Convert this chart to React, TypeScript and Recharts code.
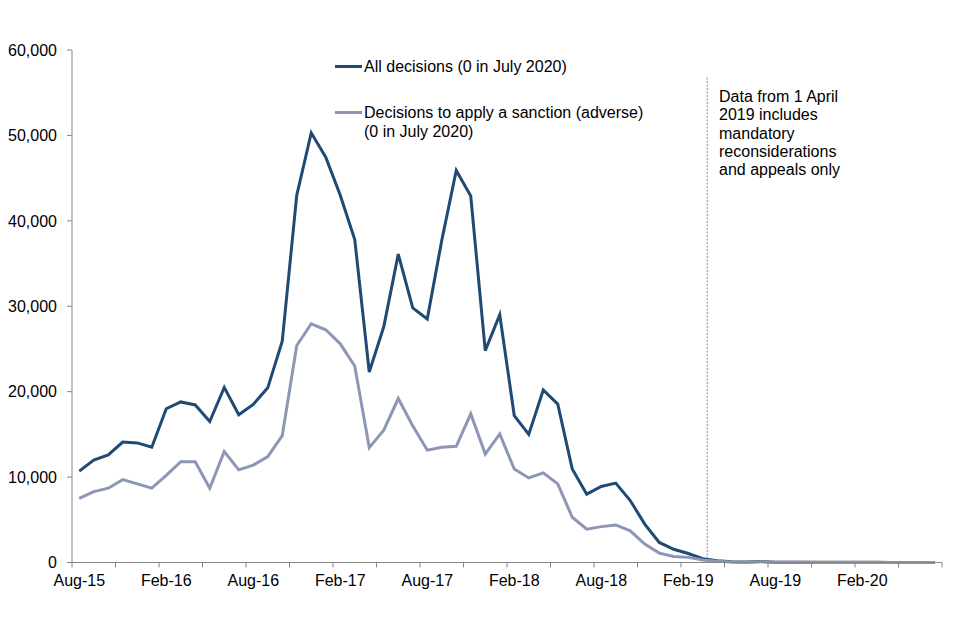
import React from "react";
import { LineChart, Line, XAxis, YAxis, ReferenceLine } from "recharts";

const months = [
  "Aug-15","Sep-15","Oct-15","Nov-15","Dec-15","Jan-16","Feb-16","Mar-16","Apr-16","May-16","Jun-16","Jul-16",
  "Aug-16","Sep-16","Oct-16","Nov-16","Dec-16","Jan-17","Feb-17","Mar-17","Apr-17","May-17","Jun-17","Jul-17",
  "Aug-17","Sep-17","Oct-17","Nov-17","Dec-17","Jan-18","Feb-18","Mar-18","Apr-18","May-18","Jun-18","Jul-18",
  "Aug-18","Sep-18","Oct-18","Nov-18","Dec-18","Jan-19","Feb-19","Mar-19","Apr-19","May-19","Jun-19","Jul-19",
  "Aug-19","Sep-19","Oct-19","Nov-19","Dec-19","Jan-20","Feb-20","Mar-20","Apr-20","May-20","Jun-20","Jul-20",
];

const allDecisions = [
  10700, 12000, 12600, 14100, 14000, 13500, 18000, 18800, 18450, 16500, 20500, 17300,
  18500, 20450, 25900, 43000, 50300, 47450, 43000, 37800, 22300, 27600, 36100, 29800,
  28500, 37700, 45900, 42900, 24800, 29000, 17200, 15000, 20200, 18550, 10950, 8000,
  8900, 9300, 7250, 4500, 2350, 1550, 1050, 450, 200, 100, 50, 130,
  40, 30, 30, 25, 20, 20, 20, 15, 10, 10, 10, 0,
];

const adverseDecisions = [
  7500, 8300, 8700, 9700, 9200, 8700, 10200, 11800, 11800, 8700, 13000, 10850,
  11400, 12400, 14850, 25400, 27950, 27250, 25600, 23000, 13450, 15500, 19200, 16000,
  13150, 13500, 13600, 17400, 12700, 15050, 10950, 9900, 10500, 9200, 5300, 3900,
  4200, 4400, 3700, 2150, 1100, 700, 600, 300, 150, 60, 30, 90,
  20, 15, 15, 10, 10, 10, 10, 5, 5, 5, 5, 0,
];

const yTicks = [0, 10000, 20000, 30000, 40000, 50000, 60000];

const seriesNames = [
  "All decisions (0 in July 2020)",
  "Decisions to apply a sanction (adverse)",
];
const seriesSubNames = ["", "(0 in July 2020)"];
const annotationLines = [
  "Data from 1 April",
  "2019 includes",
  "mandatory",
  "reconsiderations",
  "and appeals only",
];

const data = months.map((m, i) => ({
  month: m,
  all: allDecisions[i],
  adverse: adverseDecisions[i],
}));

const DARK = "#1f4a73";
const GREY = "#8d96b4";
const AXIS = "#868686";
const FONT = "'Liberation Sans', Arial, sans-serif";
const HALF = 7.25;

const XTick = (props: any) => {
  const { x, y, payload } = props;
  const i = months.indexOf(payload.value);
  return (
    <g>
      {i % 3 === 0 && (
        <line x1={x - HALF} x2={x - HALF} y1={y} y2={y + 5} stroke={AXIS} strokeWidth={1} />
      )}
      {i === months.length - 1 && (
        <line x1={x + HALF} x2={x + HALF} y1={y} y2={y + 5} stroke={AXIS} strokeWidth={1} />
      )}
      {i % 6 === 0 && (
        <text x={x} y={y + 23} textAnchor="middle" fontSize={16} fontFamily={FONT} fill="#000">
          {payload.value}
        </text>
      )}
    </g>
  );
};

const RefShape = (props: any) => {
  const { x1, y1, x2, y2 } = props;
  const dx = -HALF - 2.8;
  return (
    <line
      x1={x1 + dx}
      x2={x2 + dx}
      y1={y1}
      y2={y2}
      stroke="#8a8a8a"
      strokeWidth={1}
      strokeDasharray="2 1.5"
    />
  );
};

export default function App() {
  return (
    <div style={{ position: "relative", width: 952, height: 632, fontFamily: FONT }}>
      <LineChart
        width={952}
        height={632}
        data={data}
        margin={{ top: 42, right: 18, bottom: 47.5, left: 0 }}
      >
        <XAxis
          dataKey="month"
          interval={0}
          tickLine={false}
          tickSize={0}
          tickMargin={0}
          tick={<XTick />}
          padding={{ left: HALF, right: HALF }}
          axisLine={{ stroke: AXIS }}
          height={30}
        />
        <YAxis
          domain={[0, 60000]}
          ticks={yTicks}
          width={64}
          tickSize={5}
          tickMargin={10}
          tickLine={{ stroke: AXIS }}
          axisLine={{ stroke: AXIS }}
          tick={{ fontSize: 16, fontFamily: FONT, fill: "#000" }}
          tickFormatter={(v: number) => v.toLocaleString("en-US")}
        />
        <ReferenceLine
          segment={[
            { x: "Apr-19", y: 0 },
            { x: "Apr-19", y: 56900 },
          ]}
          shape={<RefShape />}
          ifOverflow="visible"
        />
        <Line
          type="linear"
          dataKey="all"
          stroke={DARK}
          strokeWidth={3}
          dot={false}
          isAnimationActive={false}
        />
        <Line
          type="linear"
          dataKey="adverse"
          stroke={GREY}
          strokeWidth={3}
          dot={false}
          isAnimationActive={false}
        />
      </LineChart>

      {/* Legend */}
      <div style={{ position: "absolute", left: 327, top: 48.5, fontSize: 16, lineHeight: "19px", color: "#000" }}>
        <div style={{ display: "flex", alignItems: "flex-start" }}>
          <div style={{ width: 27, height: 3, background: DARK, marginTop: 8, marginRight: 2 }} />
          <div style={{ whiteSpace: "nowrap" }}>{seriesNames[0]}</div>
        </div>
      </div>
      <div style={{ position: "absolute", left: 327, top: 94.5, fontSize: 16, lineHeight: "19px", color: "#000" }}>
        <div style={{ display: "flex", alignItems: "flex-start" }}>
          <div style={{ width: 27, height: 3, background: GREY, marginTop: 8, marginRight: 2 }} />
          <div style={{ whiteSpace: "nowrap" }}>
            {seriesNames[1]}
            <br />
            {seriesSubNames[1]}
          </div>
        </div>
      </div>

      {/* Annotation */}
      <div style={{ position: "absolute", left: 711, top: 79.8, fontSize: 16, lineHeight: "18.4px", color: "#000" }}>
        {annotationLines.map((l) => (
          <div key={l} style={{ whiteSpace: "nowrap" }}>{l}</div>
        ))}
      </div>
    </div>
  );
}
